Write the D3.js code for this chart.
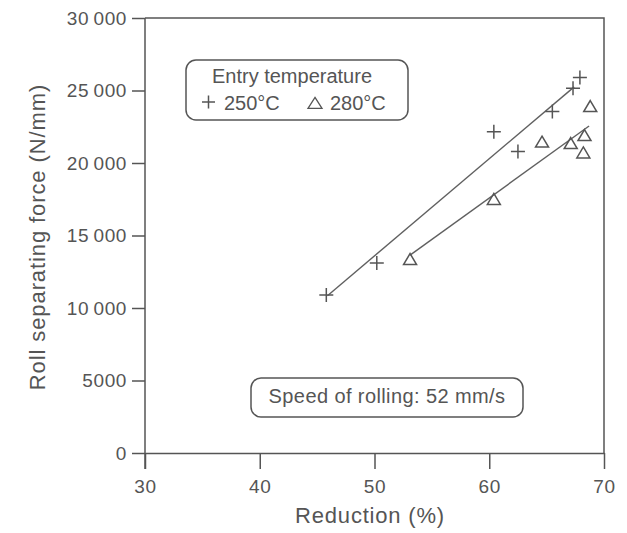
<!DOCTYPE html>
<html>
<head>
<meta charset="utf-8">
<script src="https://cdn.jsdelivr.net/npm/d3@7"></script>
<style>
  body { margin: 0; background: #fff; }
  svg { display: block; }
  text { font-family: "Liberation Sans", Arial, Helvetica, sans-serif; fill: #555; }
</style>
</head>
<body>
<svg id="chart" width="627" height="533"></svg>
<script>
// values
const reduction250 = [45.8, 50.2, 60.4, 62.5, 65.5, 67.3, 67.9];
const force250 = [10900, 13100, 22150, 20800, 23550, 25150, 25900];
const reduction280 = [53.1, 60.4, 64.6, 67.1, 68.3, 68.2, 68.8];
const force280 = [13300, 17450, 21400, 21300, 21850, 20650, 23850];

// hand drawn fit lines (end points)
const fitReduction250 = [45.9, 67.4];
const fitForce250 = [10850, 25250];
const fitReduction280 = [53.1, 68.7];
const fitForce280 = [13650, 22550];

const xTicks = [30, 40, 50, 60, 70];
const yTicks = [0, 5000, 10000, 15000, 20000, 25000, 30000];

const ink = "#555";

let svg = d3.select("#chart");

let x = d3.scaleLinear().domain([30, 70]).range([145, 604]);
let y = d3.scaleLinear().domain([0, 30000]).range([453, 18]);

function fmt(d) {
    // thin space as thousands separator, only from 10 000 up
    return d >= 10000 ? d3.format(",")(d).replace(",", "\u2009") : String(d);
}

// frame (top and right sides)
svg.append("path")
    .attr("d", `M${x(30)},${y(30000)}H${x(70)}V${y(0)}`)
    .attr("fill", "none")
    .attr("stroke", ink)
    .attr("stroke-width", 1.5);

let xAxis = svg.append("g")
    .attr("transform", `translate(0,${y(0)})`)
    .call(d3.axisBottom(x).tickValues(xTicks).tickSize(16).tickPadding(11).tickSizeOuter(0));

let yAxis = svg.append("g")
    .attr("transform", `translate(${x(30)},0)`)
    .call(d3.axisLeft(y).tickValues(yTicks).tickFormat(fmt).tickSize(13).tickPadding(5).tickSizeOuter(0));

[xAxis, yAxis].forEach(function (g) {
    g.select(".domain").attr("stroke", ink).attr("stroke-width", 1.5);
    g.selectAll(".tick line").attr("stroke", ink).attr("stroke-width", 1.5);
    g.selectAll(".tick text")
        .attr("fill", ink)
        .style("font-size", "19px")
        .style("letter-spacing", "0.6px")
        .attr("font-family", null);
});

// y axis runs a little below 0, through the 30 tick
yAxis.select(".domain").attr("d", `M0,${y(30000)}V${y(0) + 16}`);

// axis titles
svg.append("text")
    .attr("x", 370)
    .attr("y", 523)
    .attr("text-anchor", "middle")
    .style("font-size", "22px")
    .style("letter-spacing", "0.8px")
    .text("Reduction (%)");

svg.append("text")
    .attr("transform", "translate(45,237) rotate(-90)")
    .attr("text-anchor", "middle")
    .style("font-size", "22px")
    .style("letter-spacing", "0.9px")
    .text("Roll separating force (N/mm)");

// markers
function plusPath(s) {
    return `M${-s},0H${s}M0,${-s}V${s}`;
}
function triPath(w, h) {
    return `M0,${-h * 0.6}L${w},${h * 0.4}L${-w},${h * 0.4}Z`;
}

let pts250 = reduction250.map((r, i) => ({ r: r, f: force250[i] }));
let pts280 = reduction280.map((r, i) => ({ r: r, f: force280[i] }));

let line = d3.line().x(d => x(d.r)).y(d => y(d.f));

svg.append("path")
    .datum(fitReduction250.map((r, i) => ({ r: r, f: fitForce250[i] })))
    .attr("d", line)
    .attr("fill", "none")
    .attr("stroke", "#606060")
    .attr("stroke-width", 1.4);

svg.append("path")
    .datum(fitReduction280.map((r, i) => ({ r: r, f: fitForce280[i] })))
    .attr("d", line)
    .attr("fill", "none")
    .attr("stroke", "#606060")
    .attr("stroke-width", 1.4);

svg.append("g")
    .selectAll("path")
    .data(pts250)
    .enter().append("path")
    .attr("transform", d => `translate(${x(d.r)},${y(d.f)})`)
    .attr("d", plusPath(7))
    .attr("fill", "none")
    .attr("stroke", ink)
    .attr("stroke-width", 1.5);

svg.append("g")
    .selectAll("path")
    .data(pts280)
    .enter().append("path")
    .attr("transform", d => `translate(${x(d.r)},${y(d.f)})`)
    .attr("d", triPath(6.5, 11))
    .attr("fill", "none")
    .attr("stroke", ink)
    .attr("stroke-width", 1.5);

// legend box
svg.append("rect")
    .attr("x", 186).attr("y", 60)
    .attr("width", 222).attr("height", 60)
    .attr("rx", 10)
    .attr("fill", "none")
    .attr("stroke", ink)
    .attr("stroke-width", 1.5);

svg.append("text")
    .attr("x", 292).attr("y", 83)
    .attr("text-anchor", "middle")
    .style("font-size", "20px")
    .text("Entry temperature");

svg.append("path")
    .attr("transform", "translate(208.5,102)")
    .attr("d", plusPath(6.5))
    .attr("fill", "none")
    .attr("stroke", ink)
    .attr("stroke-width", 1.5);

svg.append("text")
    .attr("x", 224).attr("y", 110)
    .style("font-size", "20px")
    .text("250°C");

svg.append("path")
    .attr("transform", "translate(315,104)")
    .attr("d", triPath(7, 11))
    .attr("fill", "none")
    .attr("stroke", ink)
    .attr("stroke-width", 1.3);

svg.append("text")
    .attr("x", 330).attr("y", 110)
    .style("font-size", "20px")
    .text("280°C");

// speed note
svg.append("rect")
    .attr("x", 251).attr("y", 378)
    .attr("width", 272).attr("height", 39)
    .attr("rx", 10)
    .attr("fill", "none")
    .attr("stroke", ink)
    .attr("stroke-width", 1.5);

svg.append("text")
    .attr("x", 387).attr("y", 403)
    .attr("text-anchor", "middle")
    .style("font-size", "20px")
    .style("letter-spacing", "0.4px")
    .text("Speed of rolling: 52 mm/s");
</script>
</body>
</html>
